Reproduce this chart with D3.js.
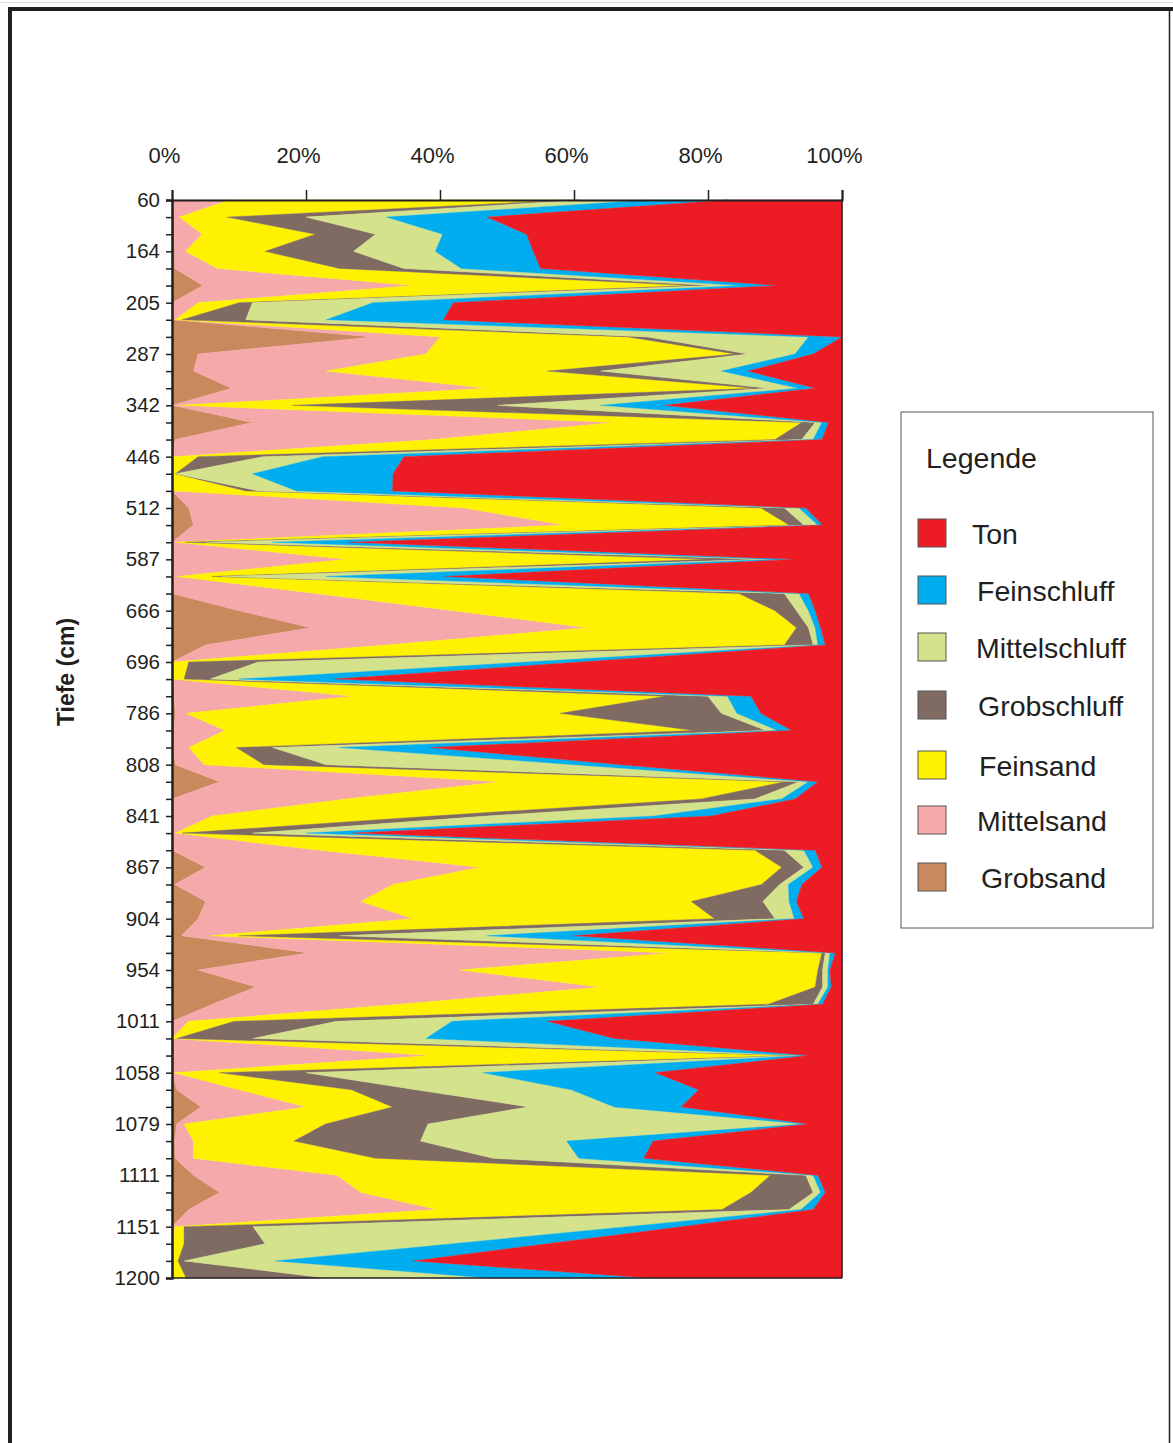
<!DOCTYPE html>
<html><head><meta charset="utf-8">
<script src="https://cdn.jsdelivr.net/npm/d3@7"></script>
<style>
html,body{margin:0;padding:0;background:#fff;}
svg{display:block;font-family:"Liberation Sans",Arial,Helvetica,sans-serif;}
</style></head>
<body>
<svg id="chart" width="1173" height="1443"></svg>
<script>
// Depth labels (every 3rd sample)
const depthLabels = ["60","164","205","287","342","446","512","587","666","696","786","808","841","867","904","954","1011","1058","1079","1111","1151","1200"];
const xTicks = [0,20,40,60,80,100];
const seriesNames = ["Grobsand","Mittelsand","Feinsand","Grobschluff","Mittelschluff","Feinschluff","Ton"];
const seriesColors = ["#C8895D","#F6A9AB","#FFF200","#806B63","#D3E28B","#00AEEF","#ED1C24"];
const legendOrder = ["Ton","Feinschluff","Mittelschluff","Grobschluff","Feinsand","Mittelsand","Grobsand"];

// Values in % per sample (64 samples, top to bottom)
const grobsand = [0,0.3,0.3,0.4,0.4,4.6,0,0, 30,3.9,3.2,8.9,0,12,0.5,0, 0,0,2.5,3.2,0,0,0,0, 10,20.7,5,0,0,0.3,0.5,0.3, 0.2,0.5,7.1,0,0,0,0,5, 0.4,5,3.9,1.4,20.4,3.9,12.5,6, 0,0,0,0,0.7,4.3,0.7,0.4, 0.5,3.2,7.1,2.5,0,0,0,0];
const mittelsand = [8.6,0.8,4.2,1.6,6.4,31.4,3.9,0.5, 10,34,19.8,38.1,1,54,38.5,0.2, 0.2,0.3,41.1,55.4,0.5,26,0.7,21.5, 32,41.3,27,0,0,26.7,1.6,7.6, 2.3,4.3,41.9,26,6,0.5,22,41, 32.6,23.2,32.1,4.3,54.2,39,51.5,28, 2.5,0,38.6,0.3,9.3,15.7,1.1,2.8, 2.7,21.4,21.1,37.1,0.4,0.3,0.3,0.3];
const feinsand = [50.4,7.1,16.9,11.9,18.2,41.5,6.1,1, 28,46.1,33,40,17,28,51,3.7, 0.3,10.7,44.3,33.5,1.5,54,5.3,63.1, 48,31.2,59.4,2.5,1.8,46.6,55.8,70, 7.1,8.9,42.4,53,33,1,65,45, 55,49.3,45,4.3,22.4,53.5,32,55, 6.8,0.7,54.3,6.8,16.8,12.9,21.1,15, 27.2,64.7,58.2,42.5,1.4,1.5,0.6,1.8];
const grobschluff = [2,11.8,9,13.2,9.6,3,2,9.5, 3,2,8,2,30.6,2,4,9.7, 0.1,1.9,3.5,2.2,3,8,1.5,6.8, 3.2,1.8,4.3,10.4,3.9,6.4,24.1,10.7, 5.4,9.3,2.2,8,8,10.5,4.4,3.3, 2.7,10.7,9,15,0.5,0.7,1.1,6.7, 15.3,11.4,0.6,12.9,9.6,20.3,15.3,18.9, 17.5,5.3,9.3,10,10.3,12.1,0.9,20.8];
const mittelschluff = [10,12,10,12.2,8.6,4.5,18,12, 24,7,18,4.5,15.4,1,1.7,8.9, 11.4,5.7,2.2,2.1,10,2,15.5,2.2, 1.8,1,0.7,40.1,4.3,2.9,2.3,1.8, 10,37,1.4,4,25,8,2.9,1.4, 1.3,3.9,2.9,22,0.7,0.8,0.8,0.7, 17.2,25.8,0.8,26.4,23.2,12.8,56.1,21.8, 12.8,1.1,1.1,1.8,55.9,28,13.6,24.2];
const feinschluff = [12,15,12.5,14.6,11.8,5.5,12,17.5, 5,2.7,4,2.5,9.5,1,1.3,12.1, 21,14.3,1,0.7,11.4,3,17.7,1.4, 1,0.8,1.1,8,14.3,3.5,3.6,2.1, 13.6,7,1.4,2,8.5,7,1.7,1.3, 2,1.1,1.4,13,0.8,0.3,0.5,0.7, 14.2,28.1,0.7,25.7,19,10,0.7,12.9, 9.7,0.7,0.7,1.8,8,14.1,20.6,24];
const ton = [17,53,47.1,46.1,45,9.5,58,59.5, 0,4.3,14,4,26.5,2,3,65.4, 67,67.1,5.4,2.9,73.6,7,59.3,5, 4,3.2,2.5,39,75.7,13.6,12.1,7.5, 61.4,33,3.6,7,19.5,73,4,3, 6,6.8,5.7,40,1,1.8,1.6,2.9, 44,34,5,27.9,21.4,24,5,28.2, 29.6,3.6,2.5,4.3,24,44,64,28.9];

const seriesData = [grobsand,mittelsand,feinsand,grobschluff,mittelschluff,feinschluff,ton];
const nSamples = grobsand.length;
const rows = d3.range(nSamples).map(i => {
  const r = {idx:i};
  seriesNames.forEach((k,j) => r[k] = seriesData[j][i]);
  return r;
});

const svg = d3.select("#chart");
const ink = "#231F20";

// outer frame
svg.append("line").attr("x1",0).attr("x2",1173).attr("y1",2.5).attr("y2",2.5).attr("stroke","#ddd").attr("stroke-width",1);
svg.append("path").attr("d","M10,1443 V9 H1173").attr("fill","none").attr("stroke",ink).attr("stroke-width",4);
svg.append("line").attr("x1",1169.5).attr("x2",1169.5).attr("y1",9).attr("y2",1443).attr("stroke",ink).attr("stroke-width",1.5);

const x = d3.scaleLinear().domain([0,100]).range([172,842]);
const y = d3.scaleLinear().domain([0,nSamples-1]).range([200,1278]);

const stacked = d3.stack().keys(seriesNames)(rows);
const area = d3.area()
  .y(d => y(d.data.idx))
  .x0(d => x(Math.min(100,d[0])))
  .x1(d => x(Math.min(100,d[1])));

svg.append("g").selectAll("path").data(stacked).join("path")
  .attr("d", area)
  .attr("fill", (d,i) => seriesColors[i])
  .attr("stroke", (d,i) => seriesColors[i])
  .attr("stroke-width", 0.4)
  .attr("stroke-linejoin","round");

// plot border right & bottom
svg.append("line").attr("x1",842).attr("x2",842).attr("y1",200).attr("y2",1278).attr("stroke",ink).attr("stroke-width",1.5);
svg.append("line").attr("x1",172).attr("x2",842).attr("y1",1278).attr("y2",1278).attr("stroke",ink).attr("stroke-width",1.5);

// top axis
const gx = svg.append("g").attr("transform","translate(0,200)")
  .call(d3.axisTop(x).tickValues(xTicks).tickSize(10).tickFormat(d => d + "%"));
gx.select(".domain").attr("stroke",ink).attr("stroke-width",2);
gx.selectAll(".tick line").attr("stroke",ink).attr("stroke-width",1.5);
gx.selectAll(".tick text").attr("fill",ink).attr("font-size",22).attr("font-family","'Liberation Sans',Arial,sans-serif")
  .attr("x",-8).attr("y",-37).attr("dy",0);

// left axis
const gy = svg.append("g").attr("transform","translate(172,0)")
  .call(d3.axisLeft(y).tickValues(d3.range(nSamples)).tickSize(6).tickPadding(6)
    .tickFormat(i => i % 3 === 0 ? depthLabels[i/3] : ""));
gy.select(".domain").attr("stroke",ink).attr("stroke-width",2.5);
gy.selectAll(".tick line").attr("stroke",ink).attr("stroke-width",1.5);
gy.selectAll(".tick text").attr("fill",ink).attr("font-size",20.5).attr("font-family","'Liberation Sans',Arial,sans-serif");

// y title
svg.append("text").attr("transform","translate(74,672) rotate(-90)")
  .attr("text-anchor","middle").attr("font-size",23).attr("font-weight","bold").attr("fill",ink)
  .text("Tiefe (cm)");

// legend
const lg = svg.append("g");
lg.append("rect").attr("x",901).attr("y",412).attr("width",252).attr("height",516)
  .attr("fill","#fff").attr("stroke","#555").attr("stroke-width",1);
lg.append("text").attr("x",926).attr("y",468).attr("font-size",28.5).attr("fill",ink).text("Legende");
const swatchY = [519,576,633,691,751,806,863];
const textX = [972,977,976,978,979,977,981];
legendOrder.forEach((name,k) => {
  const ci = seriesNames.indexOf(name);
  lg.append("rect").attr("x",918).attr("y",swatchY[k]).attr("width",28).attr("height",28)
    .attr("fill",seriesColors[ci]).attr("stroke","#555").attr("stroke-width",1);
  lg.append("text").attr("x",textX[k]).attr("y",swatchY[k]+25).attr("font-size",28.5).attr("fill",ink).text(name);
});
</script>
</body></html>
